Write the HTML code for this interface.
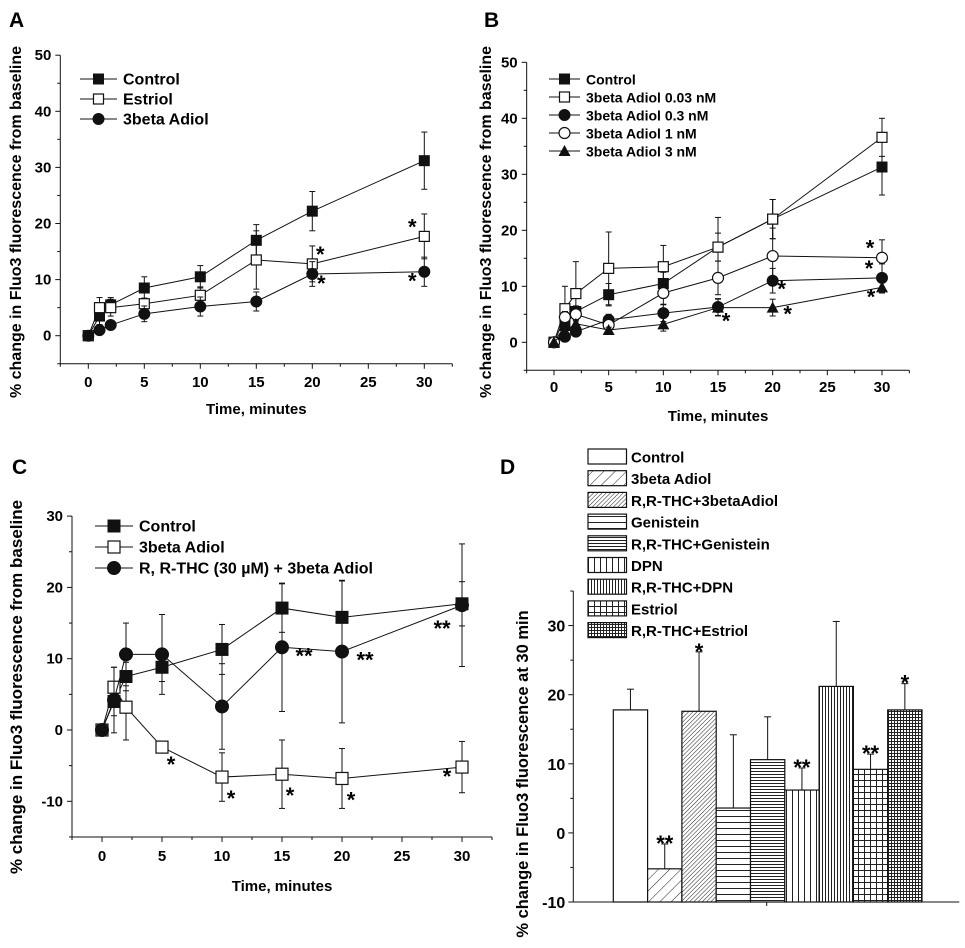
<!DOCTYPE html>
<html><head><meta charset="utf-8"><style>
html,body{margin:0;padding:0;background:#fff;}
svg{display:block;font-family:"Liberation Sans",Arial,sans-serif;font-weight:bold;}
</style></head><body>
<svg id="fig" width="965" height="948" viewBox="0 0 965 948" xmlns="http://www.w3.org/2000/svg">
<defs>
<pattern id="p-diag" patternUnits="userSpaceOnUse" width="8" height="8" patternTransform="rotate(45)"><rect width="8" height="8" fill="#fff"/><line x1="0" y1="0" x2="0" y2="8" stroke="#222" stroke-width="1"/></pattern>
<pattern id="p-diag2" patternUnits="userSpaceOnUse" width="3" height="3" patternTransform="rotate(45)"><rect width="3" height="3" fill="#fff"/><line x1="0" y1="0" x2="0" y2="3" stroke="#222" stroke-width="1"/></pattern>
<pattern id="p-hor" patternUnits="userSpaceOnUse" width="6" height="6"><rect width="6" height="6" fill="#fff"/><line x1="0" y1="0.5" x2="6" y2="0.5" stroke="#222" stroke-width="1"/></pattern>
<pattern id="p-hor2" patternUnits="userSpaceOnUse" width="3" height="3"><rect width="3" height="3" fill="#fff"/><line x1="0" y1="0.5" x2="3" y2="0.5" stroke="#222" stroke-width="1"/></pattern>
<pattern id="p-ver" patternUnits="userSpaceOnUse" width="6" height="6"><rect width="6" height="6" fill="#fff"/><line x1="0.5" y1="0" x2="0.5" y2="6" stroke="#222" stroke-width="1"/></pattern>
<pattern id="p-ver2" patternUnits="userSpaceOnUse" width="3" height="3"><rect width="3" height="3" fill="#fff"/><line x1="0.5" y1="0" x2="0.5" y2="3" stroke="#222" stroke-width="1"/></pattern>
<pattern id="p-grid" patternUnits="userSpaceOnUse" width="6" height="6"><rect width="6" height="6" fill="#fff"/><path d="M0.5 0V6M0 0.5H6" stroke="#222" stroke-width="1"/></pattern>
<pattern id="p-grid2" patternUnits="userSpaceOnUse" width="3" height="3"><rect width="3" height="3" fill="#fff"/><path d="M0.5 0V3M0 0.5H3" stroke="#222" stroke-width="1"/></pattern>
</defs>
</svg>
<script>
// ---------- Panel A data ----------
const timesA = [0,1,2,5,10,15,20,30];
const namesA = ["Control","Estriol","3beta Adiol"];
const ctrlA = [0,3.5,5.5,8.5,10.5,17,22.2,31.2];
const ctrlAErr = [0,1.5,1.3,2,2,2.8,3.5,5.1];
const estA = [0,5,5,5.7,7.2,13.5,12.8,17.7];
const estAErr = [0,1.8,1.5,1,1.5,5.2,3.2,4];
const adA = [0,1,1.9,3.9,5.2,6.1,11,11.4];
const adAErr = [0,0.5,0.5,1.4,1.7,1.7,2.2,2.6];
const yTicksA = [0,10,20,30,40,50];
const xTicks = [0,5,10,15,20,25,30];
// ---------- Panel B data ----------
const namesB = ["Control","3beta Adiol 0.03 nM","3beta Adiol 0.3 nM","3beta Adiol 1 nM","3beta  Adiol 3 nM"];
const ctrlB = [0,3,5.5,8.5,10.5,17,22,31.3];
const ctrlBErr = [0,1,1,2,2,2.5,3.5,5];
const b003 = [0,6,8.7,13.2,13.5,17,22,36.6];
const b003Err = [0,4,5.7,6.5,3.8,5.3,3.5,3.4];
const b03 = [0,1,1.9,4,5.2,6.3,11,11.5];
const b03Err = [0,0.5,0.5,1,1.5,1.5,2.2,2.5];
const b1 = [0,4.5,5,3.1,8.8,11.5,15.4,15.1];
const b1Err = [0,1,1,1,2,3,5,3.2];
const b3 = [0,2,3.3,2.2,3.2,6.2,6.2,9.8];
const b3Err = [0,0.5,0.5,0.5,1.2,1.5,1.5,1];
// ---------- Panel C data ----------
const namesC = ["Control","3beta Adiol","R, R-THC (30 \u00b5M) + 3beta Adiol"];
const ctrlC = [0,4,7.5,8.8,11.3,17.1,15.8,17.7];
const ctrlCErr = [0,2,2,2,3.5,3.4,5.1,3.1];
const adC = [0,6,3.2,-2.4,-6.6,-6.2,-6.8,-5.2];
const adCErr = [0,2.8,4.6,0.3,3.4,4.8,4.2,3.6];
const thcC = [0,4.2,10.6,10.6,3.3,11.6,11,17.5];
const thcCErr = [0,4.6,4.4,5.6,6,9,10,8.6];
const yTicksC = [-10,0,10,20,30];
// ---------- Panel D data ----------
const catsD = ["Control","3beta Adiol","R,R-THC+3betaAdiol","Genistein","R,R-THC+Genistein","DPN","R,R-THC+DPN","Estriol","R,R-THC+Estriol"];
const valsD = [17.8,-5.2,17.6,3.6,10.6,6.2,21.2,9.2,17.8];
const errD = [3,3.6,8.6,10.6,6.2,3.2,9.4,2.2,3.8];
const starsD = ["","**","*","","","**","","**","*"];
const yTicksD = [-10,0,10,20,30];

const svg = document.getElementById('fig');
const NS = "http://www.w3.org/2000/svg";
function mk(tag, attrs, parent){const e=document.createElementNS(NS,tag);for(const k in attrs)e.setAttribute(k,attrs[k]);(parent||svg).appendChild(e);return e;}
function txt(s, attrs, parent){const e=mk('text',attrs,parent);e.textContent=s;return e;}

function marker(g, type, x, y, s){
  let m;
  if(type==='sqF') m=mk('rect',{x:x-s,y:y-s,width:2*s,height:2*s,fill:'#111',stroke:'#111','stroke-width':1},g);
  else if(type==='sqO') m=mk('rect',{x:x-s,y:y-s,width:2*s,height:2*s,fill:'#fff',stroke:'#111','stroke-width':1.2},g);
  else if(type==='ciF') m=mk('circle',{cx:x,cy:y,r:s+0.5,fill:'#111',stroke:'#111'},g);
  else if(type==='ciO') m=mk('circle',{cx:x,cy:y,r:s+0.5,fill:'#fff',stroke:'#111','stroke-width':1.2},g);
  else m=mk('polygon',{points:`${x},${y-s-1} ${x-s-1},${y+s} ${x+s+1},${y+s}`,fill:'#111'},g);
  return m;
}

function linePanel(cfg){
  const g=mk('g',{});
  
  
  const X=v=>cfg.x0+(v-0)*(cfg.x30-cfg.x0)/30;
  const Y=v=>cfg.yZero-(v)*cfg.pxPer10/10;
  const yBot=Y(cfg.yMin), yTop=Y(cfg.yMax);
  const xL=X(-2.5), xR=X(32.5);
  const ax=mk('g',{},g);
  
  
  mk('line',{x1:xL,y1:yBot,x2:xL,y2:yTop,stroke:'#111','stroke-width':1},ax);
  mk('line',{x1:xL,y1:yBot,x2:xR,y2:yBot,stroke:'#111','stroke-width':1},ax);
  for(let v=cfg.yMin;v<=cfg.yMax;v+=5){const major=cfg.yTicks.includes(v);mk('line',{x1:xL-(major?5:3),y1:Y(v),x2:xL,y2:Y(v),stroke:'#111'},ax);}
  cfg.yTicks.forEach(v=>{const t=txt(String(v),{x:xL-9,y:Y(v)+5,'text-anchor':'end','font-size':15},ax);});
  for(let v=-2.5;v<=32.5;v+=2.5){const major=xTicks.includes(v);mk('line',{x1:X(v),y1:yBot,x2:X(v),y2:yBot+(major?5:3),stroke:'#111'},ax);}
  xTicks.forEach(v=>{const t=txt(String(v),{x:X(v),y:cfg.tickY,'text-anchor':'middle','font-size':15},ax);});
  const xt=txt('Time, minutes',{x:(X(0)+X(30))/2,y:cfg.xTitleY,'text-anchor':'middle','font-size':15},g);
  
  const yt=txt('% change in Fluo3 fluorescence from baseline',{x:0,y:0,'text-anchor':'middle','font-size':cfg.yTitleSize,transform:`translate(${cfg.yTitleX},${cfg.yTitleCy}) rotate(-90)`},g);
  
  cfg.series.forEach((s,si)=>{
    const sg=mk('g',{},g);
    
    
    mk('polyline',{points:timesA.map((t,i)=>X(t)+','+Y(s.v[i])).join(' '),fill:'none',stroke:'#111','stroke-width':1},sg);
    timesA.forEach((t,i)=>{
      const e=s.e[i]; if(!e) return;
      const x=X(t);
      mk('line',{x1:x,y1:Y(s.v[i]-e),x2:x,y2:Y(s.v[i]+e),stroke:'#111','stroke-width':1},sg);
      mk('line',{x1:x-3,y1:Y(s.v[i]+e),x2:x+3,y2:Y(s.v[i]+e),stroke:'#111'},sg);
      mk('line',{x1:x-3,y1:Y(s.v[i]-e),x2:x+3,y2:Y(s.v[i]-e),stroke:'#111'},sg);
    });
    timesA.forEach((t,i)=>{const m=marker(sg,s.m,X(t),Y(s.v[i]),cfg.ms);});
    (s.stars||[]).forEach(st=>{const i=timesA.indexOf(st[0]);const a=txt(st[1],{x:X(st[0])+st[2],y:Y(s.v[i])+st[3],'font-size':22,'text-anchor':'middle'},sg);});
  });
  const lg=mk('g',{},g);
  
  
  cfg.series.forEach((s,i)=>{
    const y=cfg.legY+i*cfg.legDy;
    const eg=mk('g',{},lg);
    
    
    mk('line',{x1:cfg.legX1,y1:y,x2:cfg.legX2,y2:y,stroke:'#111'},eg);
    marker(eg,s.m,(cfg.legX1+cfg.legX2)/2,y,cfg.ms);
    txt(s.label,{x:cfg.legX2+6,y:y+5.5,'font-size':cfg.legFont},eg);
  });
}

linePanel({name:'panel-a',x0:88.3,x30:424.3,yZero:335.7,pxPer10:56.1,yMin:-5,yMax:50,yTicks:yTicksA,tickY:387,xTitleY:414,
  yTitleX:21,yTitleCy:222,yTitleSize:16,ms:5,legX1:80,legX2:117,legY:79,legDy:20,legFont:16,
  series:[
    {key:'control',label:namesA[0],m:'sqF',v:ctrlA,e:ctrlAErr},
    {key:'estriol',label:namesA[1],m:'sqO',v:estA,e:estAErr,stars:[[30,'*',-12,-2],[20,'*',8,-2]]},
    {key:'adiol',label:namesA[2],m:'ciF',v:adA,e:adAErr,stars:[[20,'*',9,17],[30,'*',-12,17]]}]});

linePanel({name:'panel-b',x0:554,x30:882,yZero:342.3,pxPer10:56,yMin:-5,yMax:50,yTicks:yTicksA,tickY:392,xTitleY:421,
  yTitleX:491,yTitleCy:222,yTitleSize:16,ms:5,legX1:549,legX2:580,legY:79,legDy:18,legFont:14,
  series:[
    {key:'control',label:namesB[0],m:'sqF',v:ctrlB,e:ctrlBErr},
    {key:'adiol-003',label:namesB[1],m:'sqO',v:b003,e:b003Err},
    {key:'adiol-03',label:namesB[2],m:'ciF',v:b03,e:b03Err,stars:[[20,'*',9,16],[30,'*',-13,-2]]},
    {key:'adiol-1',label:namesB[3],m:'ciO',v:b1,e:b1Err,stars:[[30,'*',-12,-2]]},
    {key:'adiol-3',label:namesB[4],m:'tri',v:b3,e:b3Err,stars:[[15,'*',8,21],[20,'*',15,14],[30,'*',-11,17]]}]});

linePanel({name:'panel-c',x0:102,x30:462,yZero:730,pxPer10:71.3,yMin:-15,yMax:30,yTicks:yTicksC,tickY:861,xTitleY:891,
  yTitleX:22,yTitleCy:687,yTitleSize:17,ms:6,legX1:95,legX2:133,legY:526,legDy:21,legFont:16,
  series:[
    {key:'control',label:namesC[0],m:'sqF',v:ctrlC,e:ctrlCErr},
    {key:'adiol',label:namesC[1],m:'sqO',v:adC,e:adCErr,stars:[[5,'*',9,25],[10,'*',9,29],[15,'*',8,29],[20,'*',9,29],[30,'*',-15,17]]},
    {key:'thc-adiol',label:namesC[2],m:'ciF',v:thcC,e:thcCErr,stars:[[15,'**',22,16],[20,'**',23,16],[30,'**',-20,31]]}]});

// ---------- Panel D ----------
(function(){
  const g=mk('g',{});
  
  
  const pats=['#fff','url(#p-diag)','url(#p-diag2)','url(#p-hor)','url(#p-hor2)','url(#p-ver)','url(#p-ver2)','url(#p-grid)','url(#p-grid2)'];
  const Y=v=>902-(v+10)*6.91;
  const bw=34.3, bx0=613.3;
  const X=i=>bx0+i*bw;
  const xL=573.3,xR=959.3;
  const ax=mk('g',{},g);
  
  
  mk('line',{x1:xL,y1:Y(-10),x2:xL,y2:Y(35),stroke:'#111'},ax);
  mk('line',{x1:xL,y1:Y(-10),x2:xR,y2:Y(-10),stroke:'#111'},ax);
  mk('line',{x1:766.7,y1:Y(-10),x2:766.7,y2:Y(-10)+4,stroke:'#111'},ax);
  for(let v=-10;v<=35;v+=5){mk('line',{x1:xL-(v%10===0?5:3),y1:Y(v),x2:xL,y2:Y(v),stroke:'#111'},ax);}
  yTicksD.forEach(v=>{const t=txt(String(v),{x:xL-8,y:Y(v)+6,'text-anchor':'end','font-size':16},ax);});
  const yt=txt('% change in Fluo3 fluorescence at 30 min',{x:0,y:0,'text-anchor':'middle','font-size':16.5,transform:'translate(528,774) rotate(-90)'},g);
  
  valsD.forEach((v,i)=>{
    const bg=mk('g',{},g);
    
    
    const top=Y(Math.max(v,-10)), base=Y(-10);
    mk('rect',{x:X(i),y:top,width:bw,height:base-top,fill:pats[i],stroke:'#111','stroke-width':1.2},bg);
    const cx=X(i)+bw/2, ey=Y(v+errD[i]);
    mk('line',{x1:cx,y1:top,x2:cx,y2:ey,stroke:'#111'},bg);
    mk('line',{x1:cx-3.5,y1:ey,x2:cx+3.5,y2:ey,stroke:'#111'},bg);
    if(starsD[i]){const s=txt(starsD[i],{x:cx,y:ey+7,'text-anchor':'middle','font-size':22},bg);}
  });
  const lg=mk('g',{},g);
  
  
  catsD.forEach((c,i)=>{
    const y=449+i*21.7;
    const eg=mk('g',{},lg);
    
    
    mk('rect',{x:588,y:y,width:38.5,height:15,fill:pats[i],stroke:'#111','stroke-width':1.2},eg);
    txt(c,{x:631,y:y+13.5,'font-size':15},eg);
  });
})();

// panel letters
[['A',9,27],['B',484,27],['C',12,474],['D',500,474]].forEach(p=>{
  const t=txt(p[0],{x:p[1],y:p[2],'font-size':21});
  
  
});
</script>
</body></html>
